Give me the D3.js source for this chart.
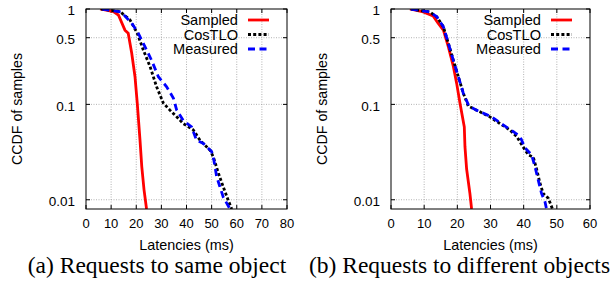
<!DOCTYPE html>
<html>
<head>
<meta charset="utf-8">
<script src="https://cdn.jsdelivr.net/npm/d3@7/dist/d3.min.js"></script>
<style>
  body { margin: 0; background: #fff; }
  svg { display: block; }
</style>
</head>
<body>
<svg id="chart" width="613" height="283"></svg>
<script>
// CCDF points: [latency ms, fraction of samples]
const sameSampled = [[5.6,1],[10.9,0.94],[12.9,0.865],[15.5,0.6],[16.8,0.557],[18.2,0.343],[19.5,0.195],[20.4,0.103],[21.5,0.042],[22.2,0.0223],[23.1,0.0127],[24.1,0.008]];
const sameCostlo = [[6,1],[13.5,0.94],[17.5,0.77],[20.4,0.557],[22.8,0.372],[25.5,0.249],[28.1,0.153],[30.8,0.103],[33.4,0.087],[36.1,0.074],[38.7,0.063],[42.7,0.054],[45.4,0.042],[49.4,0.033],[50.7,0.028],[52.7,0.019],[54.6,0.0137],[56.6,0.0099],[58,0.008]];
const sameMeasured = [[6.5,1],[14,0.93],[18.2,0.71],[20.8,0.557],[23.5,0.4],[26.1,0.29],[28.8,0.195],[32.1,0.153],[34.8,0.116],[36.1,0.087],[38.7,0.068],[42,0.058],[44,0.042],[46.7,0.039],[50,0.032],[50.9,0.026],[52,0.0175],[53.3,0.0137],[54.6,0.0107],[57.3,0.008]];

const diffSampled = [[5.7,1],[9.7,0.93],[12.7,0.845],[14.2,0.71],[15.8,0.6],[17.3,0.4],[18.8,0.25],[19.8,0.166],[20.8,0.103],[22.1,0.058],[22.3,0.036],[22.8,0.021],[23.8,0.0116],[24.3,0.008]];
const diffCostlo = [[6,1],[11.7,0.93],[13.8,0.83],[15.8,0.65],[17.3,0.436],[18.8,0.29],[20.3,0.195],[21.8,0.131],[23.3,0.096],[25.8,0.087],[29.8,0.074],[32.8,0.063],[35.8,0.054],[37.9,0.046],[39.8,0.036],[41.4,0.0296],[42.9,0.028],[43.9,0.021],[44.9,0.015],[45.9,0.0116],[47.4,0.0104],[48.7,0.008]];
const diffMeasured = [[6,1],[11.7,0.93],[13.8,0.83],[15.8,0.65],[17.3,0.436],[18.8,0.29],[20.3,0.195],[21.8,0.131],[23.5,0.096],[25.8,0.087],[30.3,0.074],[33.8,0.061],[36.8,0.052],[38.9,0.046],[40.4,0.035],[42.4,0.0296],[43.4,0.0223],[44.4,0.016],[45.4,0.0116],[46.4,0.0096],[46.9,0.008]];

const yTicks = [1, 0.5, 0.1, 0.01];
const yTickLabels = ["1", "0.5", "0.1", "0.01"];
const legendNames = ["Sampled", "CosTLO", "Measured"];
const captions = ["(a) Requests to same object", "(b) Requests to different objects"];

const svg = d3.select("#chart");
const sans = "Liberation Sans, Arial, sans-serif";

const panels = [
  { left: 86, right: 287, xMax: 80, series: [sameSampled, sameCostlo, sameMeasured], caption: captions[0], capX: 157 },
  { left: 391, right: 590, xMax: 60, series: [diffSampled, diffCostlo, diffMeasured], caption: captions[1], capX: 459.5 }
];
const plotTop = 9, plotBottom = 209;

const styles = [
  { color: "#ff0000", dash: null },
  { color: "#000000", dash: "3,2.2" },
  { color: "#0000ff", dash: "7,4.5" }
];

panels.forEach((p, pi) => {
  const x = d3.scaleLinear().domain([0, p.xMax]).range([p.left, p.right]);
  const y = d3.scaleLog().domain([0.008, 1]).range([plotBottom, plotTop]);
  const g = svg.append("g");

  // grid
  const xt = d3.range(0, p.xMax + 1, 10);
  g.append("g").selectAll("line").data(xt.slice(1, -1)).join("line")
    .attr("x1", d => x(d)).attr("x2", d => x(d)).attr("y1", plotTop).attr("y2", plotBottom)
    .attr("stroke", "#a0a0a0").attr("stroke-width", 0.8).attr("stroke-dasharray", "1,1.5");
  g.append("g").selectAll("line").data(yTicks.slice(1)).join("line")
    .attr("x1", p.left).attr("x2", p.right).attr("y1", d => y(d)).attr("y2", d => y(d))
    .attr("stroke", "#a0a0a0").attr("stroke-width", 0.8).attr("stroke-dasharray", "1,1.5");

  // ticks (inward, mirrored)
  const tk = g.append("g").attr("stroke", "#000").attr("stroke-width", 1);
  xt.forEach(d => {
    tk.append("line").attr("x1", x(d)).attr("x2", x(d)).attr("y1", plotBottom).attr("y2", plotBottom - 4);
    tk.append("line").attr("x1", x(d)).attr("x2", x(d)).attr("y1", plotTop).attr("y2", plotTop + 4);
  });
  yTicks.forEach(d => {
    tk.append("line").attr("x1", p.left).attr("x2", p.left + 4).attr("y1", y(d)).attr("y2", y(d));
    tk.append("line").attr("x1", p.right).attr("x2", p.right - 4).attr("y1", y(d)).attr("y2", y(d));
  });

  // tick labels
  g.append("g").attr("font-family", sans).attr("font-size", 13)
    .selectAll("text").data(xt).join("text")
    .attr("x", d => x(d)).attr("y", 228).attr("text-anchor", "middle").text(d => d);
  g.append("g").attr("font-family", sans).attr("font-size", 13.5)
    .selectAll("text").data(yTicks).join("text")
    .attr("x", p.left - 11).attr("y", d => y(d) + 6.3).attr("text-anchor", "end")
    .text((d, i) => yTickLabels[i]);

  // axis titles
  g.append("text").attr("font-family", sans).attr("font-size", 14.2)
    .attr("text-anchor", "middle")
    .attr("transform", `translate(${p.left - 64.5},${(plotTop + plotBottom) / 2}) rotate(-90)`)
    .text("CCDF of samples");
  g.append("text").attr("font-family", sans).attr("font-size", 14.4)
    .attr("text-anchor", "middle").attr("x", (p.left + p.right) / 2).attr("y", 250)
    .text("Latencies (ms)");

  // curves
  const clipId = "clip" + pi;
  svg.append("clipPath").attr("id", clipId).append("rect")
    .attr("x", p.left).attr("y", plotTop).attr("width", p.right - p.left).attr("height", plotBottom - plotTop);
  const line = d3.line().x(d => x(d[0])).y(d => y(d[1]));
  p.series.forEach((s, i) => {
    g.append("path").attr("clip-path", `url(#${clipId})`)
      .attr("d", line(s))
      .attr("fill", "none").attr("stroke", styles[i].color).attr("stroke-width", 2.8)
      .attr("stroke-dasharray", styles[i].dash);
  });

  // frame
  g.append("rect").attr("x", p.left).attr("y", plotTop).attr("width", p.right - p.left).attr("height", plotBottom - plotTop)
    .attr("fill", "none").attr("stroke", "#000").attr("stroke-width", 1);

  // legend
  const lg = g.append("g").attr("font-family", sans).attr("font-size", 14.6);
  legendNames.forEach((n, i) => {
    const ly = 20 + i * 14.5;
    lg.append("text").attr("x", p.right - 49).attr("y", ly + 5).attr("text-anchor", "end").text(n);
    lg.append("line").attr("x1", p.right - 39).attr("x2", p.right - 18).attr("y1", ly).attr("y2", ly)
      .attr("stroke", styles[i].color).attr("stroke-width", 2.8).attr("stroke-dasharray", styles[i].dash);
  });

  // caption
  g.append("text").attr("font-family", "Liberation Serif, Times New Roman, serif").attr("font-size", 23.5)
    .attr("text-anchor", "middle").attr("x", p.capX).attr("y", 273).text(p.caption);
});
</script>
</body>
</html>
